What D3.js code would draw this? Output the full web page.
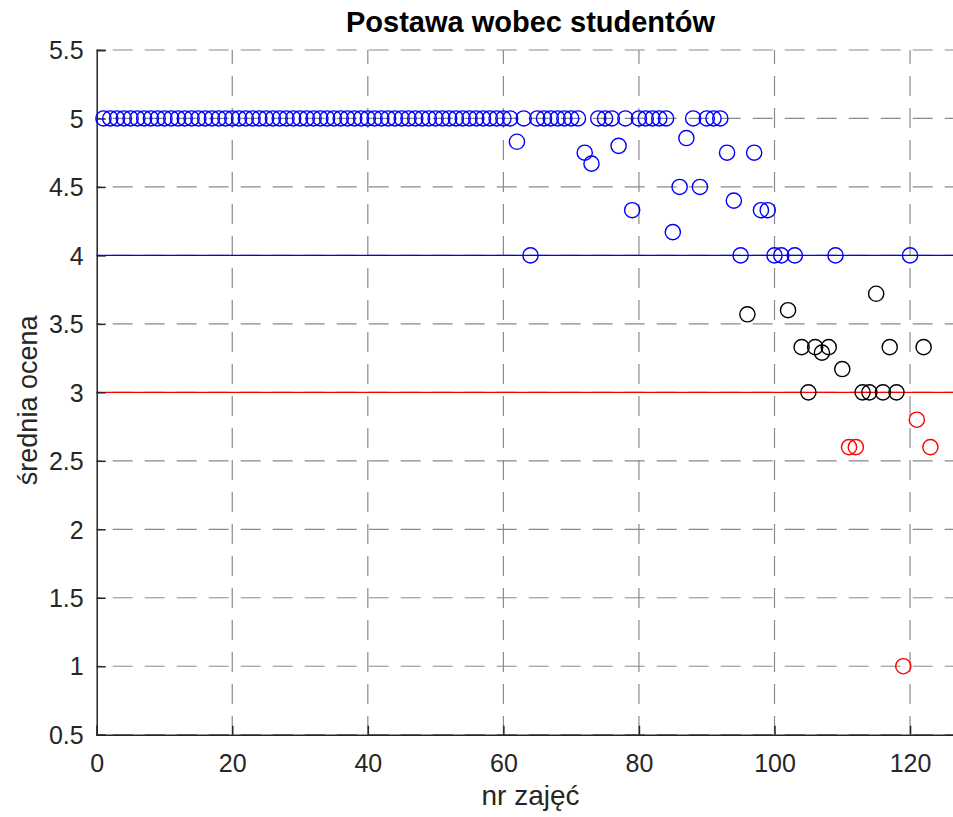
<!DOCTYPE html>
<html><head><meta charset="utf-8">
<script src="https://cdn.jsdelivr.net/npm/d3@7"></script>
<style>html,body{margin:0;padding:0;background:#fff;}svg{display:block;font-family:"Liberation Sans",Arial,sans-serif;}</style>
</head><body>
<svg id="chart" width="953" height="817"></svg>
<script>
// ---- data ----
const lessonNr = d3.range(1, 124);
const meanScore = [
  5,5,5,5,5,5,5,5,5,5, 5,5,5,5,5,5,5,5,5,5,
  5,5,5,5,5,5,5,5,5,5, 5,5,5,5,5,5,5,5,5,5,
  5,5,5,5,5,5,5,5,5,5, 5,5,5,5,5,5,5,5,5,5,
  5,4.83,5,4,5,5,5,5,5,5, 5,4.75,4.67,5,5,5,4.8,5,4.33,5,
  5,5,5,5,4.17,4.5,4.857,5,4.5,5, 5,5,4.75,4.4,4,3.57,4.75,4.33,4.33,4,
  4,3.6,4,3.33,3,3.33,3.29,3.33,4,3.17, 2.6,2.6,3,3,3.72,3,3.33,3,1,4,
  2.8,3.33,2.6
];
const thresholds = [4, 3];
const thresholdColors = ["#0000ff", "#ff0000"];
const markerColors = ["#0000ff", "#000000", "#ff0000"]; // >=4, 3..4, <3
const xTicks = [0, 20, 40, 60, 80, 100, 120];
const yTicks = [0.5, 1, 1.5, 2, 2.5, 3, 3.5, 4, 4.5, 5, 5.5];
const xDomain = [0, 128];
const yDomain = [0.5, 5.5];
const titleText = "Postawa wobec studentów";
const xLabelText = "nr zajęć";
const yLabelText = "średnia ocena";

// ---- layout ----
const L = 96.7, T = 50, B = 734.7;
const R = L + 128 * 6.778;
const svg = d3.select("#chart");
const x = d3.scaleLinear().domain(xDomain).range([L, R]);
const y = d3.scaleLinear().domain(yDomain).range([B, T]);
const axisColor = "#262626";
const gridColor = "#8a8a8a";

// grid
const grid = svg.append("g");
grid.selectAll(".hg").data(yTicks).enter().append("line")
  .attr("x1", L).attr("x2", R).attr("y1", d => y(d)).attr("y2", d => y(d))
  .attr("stroke", gridColor).attr("stroke-width", 1.2)
  .attr("stroke-dasharray", "20,12").attr("stroke-dashoffset", 16);
grid.selectAll(".vg").data(xTicks.filter(d => d > 0)).enter().append("line")
  .attr("x1", d => x(d)).attr("x2", d => x(d)).attr("y1", T).attr("y2", B)
  .attr("stroke", gridColor).attr("stroke-width", 1.2)
  .attr("stroke-dasharray", "20,12").attr("stroke-dashoffset", 6);

// threshold lines
svg.append("g").selectAll("line").data(thresholds).enter().append("line")
  .attr("x1", L).attr("x2", R).attr("y1", d => y(d)).attr("y2", d => y(d))
  .attr("stroke", (d, i) => thresholdColors[i]).attr("stroke-width", 1.2);

// axes
const xAxis = d3.axisBottom(x).tickValues(xTicks).tickSize(-9).tickPadding(20).tickFormat(d3.format("d"));
const yAxis = d3.axisLeft(y).tickValues(yTicks).tickSize(-9).tickPadding(13).tickFormat(d => String(d));
const gx = svg.append("g").attr("transform", `translate(0,${B})`).call(xAxis);
const gy = svg.append("g").attr("transform", `translate(${L},0)`).call(yAxis);
[gx, gy].forEach(g => {
  g.select(".domain").attr("stroke", axisColor).attr("stroke-width", 1.5);
  g.selectAll(".tick line").attr("stroke", axisColor).attr("stroke-width", 1.5);
  g.selectAll(".tick text").attr("fill", axisColor).attr("font-size", 25)
    .attr("font-family", "'Liberation Sans', Arial, sans-serif");
});
gx.selectAll(".tick text").attr("dy", "0.71em");
gy.selectAll(".tick text").attr("dy", "0.35em");

// markers
const colorOf = v => v >= thresholds[0] ? markerColors[0] : (v >= thresholds[1] ? markerColors[1] : markerColors[2]);
svg.append("g").selectAll("circle").data(lessonNr.map((n, i) => ({n, v: meanScore[i]})))
  .enter().append("circle")
  .attr("cx", d => x(d.n)).attr("cy", d => y(d.v)).attr("r", 7.6)
  .attr("fill", "none").attr("stroke", d => colorOf(d.v)).attr("stroke-width", 1.4);

// texts
svg.append("text").attr("x", (L + R) / 2).attr("y", 32).attr("text-anchor", "middle")
  .attr("font-size", 29).attr("font-weight", "bold").attr("fill", "#000").text(titleText);
svg.append("text").attr("x", (L + R) / 2).attr("y", 805).attr("text-anchor", "middle")
  .attr("font-size", 28).attr("fill", axisColor).text(xLabelText);
svg.append("text").attr("transform", `translate(37,${(T + B) / 2 + 8}) rotate(-90)`).attr("text-anchor", "middle")
  .attr("font-size", 27).attr("fill", axisColor).text(yLabelText);
</script>
</body></html>
